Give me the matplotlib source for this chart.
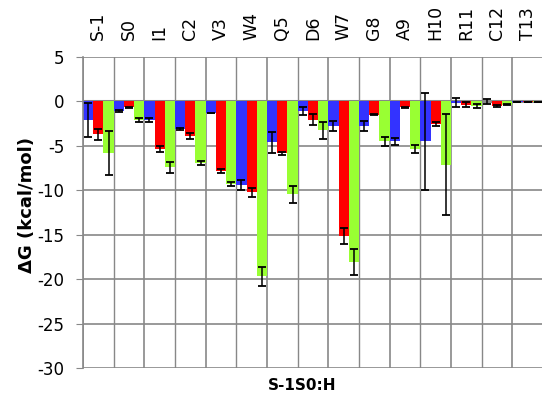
import matplotlib
matplotlib.use("Agg")
import matplotlib.pyplot as plt
import numpy as np

categories = ["S-1", "S0", "I1", "C2", "V3", "W4", "Q5", "D6", "W7", "G8", "A9", "H10", "R11", "C12", "T13"]
blue_vals = [-2.1, -1.1, -2.1, -3.1, -1.3, -9.4, -4.6, -1.1, -2.75, -2.75, -4.5, -4.5, -0.15, 0.02, -0.08]
blue_err = [1.9, 0.12, 0.2, 0.12, 0.05, 0.6, 1.15, 0.47, 0.55, 0.6, 0.4, 5.45, 0.5, 0.3, 0.03]
red_vals = [-3.7, -0.68, -5.35, -3.9, -7.8, -10.2, -5.85, -2.05, -15.2, -1.5, -0.64, -2.55, -0.35, -0.5, -0.05]
red_err = [0.6, 0.05, 0.37, 0.3, 0.25, 0.5, 0.2, 0.6, 0.9, 0.05, 0.05, 0.2, 0.3, 0.15, 0.03]
green_vals = [-5.8, -2.1, -7.4, -6.95, -9.3, -19.7, -10.45, -3.27, -18.05, -4.5, -5.3, -7.1, -0.5, -0.35, -0.05]
green_err = [2.5, 0.2, 0.6, 0.25, 0.2, 1.05, 0.95, 0.94, 1.43, 0.55, 0.45, 5.65, 0.2, 0.1, 0.03]
y_ticks = [5, 0, -5, -10, -15, -20, -25, -30]

fig = plt.figure(figsize=(5.42, 3.96), dpi=100)
ax = fig.add_axes([83 / 542, 1 - 368 / 396, 460 / 542, (368 - 57) / 396])

n = len(categories)
x = np.arange(n)
w = 1 / 3
colors = ["#3333FF", "#FF0000", "#99FF33"]
series = [(blue_vals, blue_err), (red_vals, red_err), (green_vals, green_err)]
for i, (vals, errs) in enumerate(series):
    pos = x - 0.5 + w * (i + 0.5)
    ax.bar(pos, vals, width=w, color=colors[i], zorder=2, linewidth=0)
    ax.errorbar(pos, vals, yerr=errs, fmt="none", ecolor="black", elinewidth=1.1,
                capsize=3, capthick=1.3, zorder=3)

ax.set_xlim(-0.5, n - 0.5)
ax.set_ylim(-30, 5)
ax.set_yticks(y_ticks)
ax.set_yticklabels([str(t) for t in y_ticks], fontsize=12)
ax.yaxis.grid(True, color="#888888", linewidth=1.2, zorder=0)
for b in np.arange(-0.5, n, 1):
    ax.axvline(b, color="#888888", linewidth=1.2 if int(b + 0.5) % 2 == 0 else 1.0, zorder=0)
ax.axhline(0, color="#888888", linewidth=2.2, zorder=1)

ax.set_xticks(x)
ax.set_xticklabels(categories, rotation=90, fontsize=12.5)
ax.xaxis.set_ticks_position("top")
ax.xaxis.set_label_position("top")
ax.tick_params(axis="x", length=0, pad=12)
ax.tick_params(axis="y", length=5, color="#888888", direction="out", pad=8.5)

for s in ["top", "right", "bottom"]:
    ax.spines[s].set_visible(False)
ax.spines["left"].set_color("#888888")
ax.spines["left"].set_linewidth(1.2)

fig.text(27 / 542, 1 - 205 / 396, "ΔG (kcal/mol)", rotation=90, ha="center", va="center",
         fontsize=13, fontweight="bold")
fig.text(302 / 542, 1 - 386 / 396, "S-1S0:H", ha="center", va="center",
         fontsize=11, fontweight="bold")

fig.savefig("out.png", dpi=100)
